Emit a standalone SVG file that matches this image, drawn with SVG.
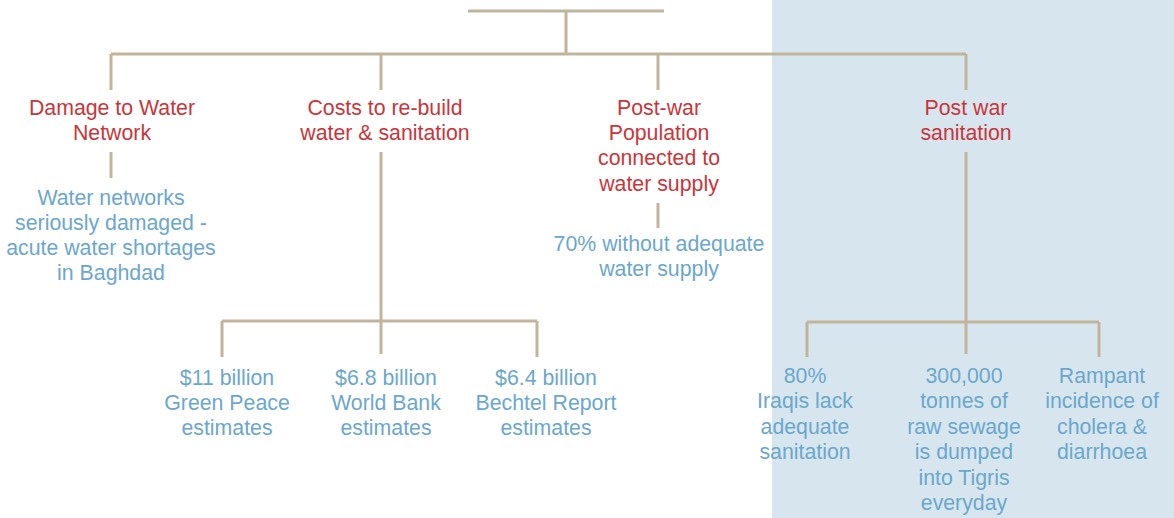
<svg xmlns="http://www.w3.org/2000/svg" width="1174" height="518" viewBox="0 0 1174 518">
<style>
.c{fill:none;stroke:#c2b49b;stroke-width:3;stroke-linecap:butt}
.t{font-family:"Liberation Sans",Arial,sans-serif;font-size:21.3px;text-anchor:middle}
.r{fill:#c8363b}
.b{fill:#6ba7cd}
</style>
<rect x="772" y="0" width="402" height="518" fill="#d7e6ee"/>
<g id="connectors">
<path class="c" d="M468 11H664M566 11V54M111 54H966M111 54V90M381 54V90M658 54V90M966 54V90"/>
<path class="c" d="M111 152V178M381 152V321M658 203V228M966 152V322"/>
<path class="c" d="M222 321H537M222 321V357M537 321V357M381 321V354"/>
<path class="c" d="M807 322H1099M807 322V357M1099 322V357M966 322V354"/>
</g>
<g id="n-damage">
<text class="t r" x="112" y="115">Damage to Water</text>
<text class="t r" x="112" y="140">Network</text>
</g>
<g id="n-damage-detail">
<text class="t b" x="111" y="205">Water networks</text>
<text class="t b" x="111" y="230">seriously damaged -</text>
<text class="t b" x="111" y="255">acute water shortages</text>
<text class="t b" x="111" y="280">in Baghdad</text>
</g>
<g id="n-costs">
<text class="t r" x="385" y="115">Costs to re-build</text>
<text class="t r" x="385" y="140">water &amp; sanitation</text>
</g>
<g id="n-population">
<text class="t r" x="659" y="115">Post-war</text>
<text class="t r" x="659" y="140">Population</text>
<text class="t r" x="659" y="165">connected to</text>
<text class="t r" x="659" y="191">water supply</text>
</g>
<g id="n-population-detail">
<text class="t b" x="659" y="251">70% without adequate</text>
<text class="t b" x="659" y="276">water supply</text>
</g>
<g id="n-sanitation">
<text class="t r" x="966" y="115">Post war</text>
<text class="t r" x="966" y="140">sanitation</text>
</g>
<g id="n-greenpeace">
<text class="t b" x="227" y="385">$11 billion</text>
<text class="t b" x="227" y="410">Green Peace</text>
<text class="t b" x="227" y="435">estimates</text>
</g>
<g id="n-worldbank">
<text class="t b" x="386" y="385">$6.8 billion</text>
<text class="t b" x="386" y="410">World Bank</text>
<text class="t b" x="386" y="435">estimates</text>
</g>
<g id="n-bechtel">
<text class="t b" x="546" y="385">$6.4 billion</text>
<text class="t b" x="546" y="410">Bechtel Report</text>
<text class="t b" x="546" y="435">estimates</text>
</g>
<g id="n-80">
<text class="t b" x="805" y="383">80%</text>
<text class="t b" x="805" y="408">Iraqis lack</text>
<text class="t b" x="805" y="434">adequate</text>
<text class="t b" x="805" y="459">sanitation</text>
</g>
<g id="n-sewage">
<text class="t b" x="964" y="383">300,000</text>
<text class="t b" x="964" y="408">tonnes of</text>
<text class="t b" x="964" y="434">raw sewage</text>
<text class="t b" x="964" y="459">is dumped</text>
<text class="t b" x="964" y="485">into Tigris</text>
<text class="t b" x="964" y="510">everyday</text>
</g>
<g id="n-cholera">
<text class="t b" x="1102" y="383">Rampant</text>
<text class="t b" x="1102" y="408">incidence of</text>
<text class="t b" x="1102" y="434">cholera &amp;</text>
<text class="t b" x="1102" y="459">diarrhoea</text>
</g>
</svg>
